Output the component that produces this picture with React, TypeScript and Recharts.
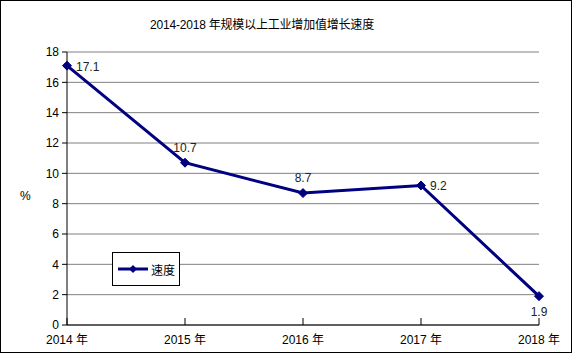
import { LineChart, Line, XAxis, YAxis, CartesianGrid, LabelList, Label } from "recharts";

const years = ["2014 年", "2015 年", "2016 年", "2017 年", "2018 年"];
const speed = [17.1, 10.7, 8.7, 9.2, 1.9];
const yTicks = [0, 2, 4, 6, 8, 10, 12, 14, 16, 18];

const data = years.map((year, i) => ({ year, speed: speed[i] }));

const NAVY = "#000080";
const FONT = "'Liberation Sans', Arial, 'Noto Sans CJK SC', sans-serif";

function Diamond(props: any) {
  const { cx, cy } = props;
  if (cx == null || cy == null) return null;
  const s = 4.5;
  return (
    <polygon
      points={`${cx},${cy - s} ${cx + s},${cy} ${cx},${cy + s} ${cx - s},${cy}`}
      fill={NAVY}
      stroke={NAVY}
    />
  );
}

// where each value label sits relative to its point
const labelPos = ["right", "top", "top", "right", "bottom"];

function ValueLabel(props: any) {
  const { x, y, value, index } = props;
  const pos = labelPos[index];
  let tx = x;
  let ty = y;
  let anchor: "start" | "middle" = "middle";
  if (pos === "right") {
    tx = x + 9;
    ty = y + 5;
    anchor = "start";
  } else if (pos === "top") {
    ty = y - 11;
  } else {
    ty = y + 20;
  }
  return (
    <text x={tx} y={ty} textAnchor={anchor} fontSize={12} fill="#222" fontFamily={FONT}>
      {value}
    </text>
  );
}

function LegendBox() {
  return (
    <div
      style={{
        position: "absolute",
        left: 111,
        top: 251,
        width: 66,
        height: 32,
        border: "1px solid #000",
        background: "#fff",
        fontFamily: FONT,
        fontSize: 12,
      }}
    >
      <svg width={40} height={32} style={{ position: "absolute", left: 0, top: 0 }}>
        <line x1={5} y1={16} x2={35} y2={16} stroke={NAVY} strokeWidth={3} />
        <polygon points="20,12 24,16 20,20 16,16" fill={NAVY} />
      </svg>
      <span style={{ position: "absolute", left: 38, top: 8, color: "#000" }}>速度</span>
    </div>
  );
}

export default function App() {
  return (
    <div
      style={{
        position: "absolute",
        left: 0,
        top: 0,
        width: 572,
        height: 353,
        border: "1px solid #000",
        boxSizing: "border-box",
        background: "#fff",
        fontFamily: FONT,
      }}
    >
      <div
        style={{
          position: "absolute",
          top: 14,
          left: 0,
          width: 522,
          textAlign: "center",
          fontSize: 12,
          color: "#000",
          letterSpacing: -0.2,
        }}
      >
        2014-2018 年规模以上工业增加值增长速度
      </div>
      <LineChart
        width={570}
        height={351}
        data={data}
        margin={{ top: 51, right: 32, bottom: 8, left: 14 }}
        style={{ position: "absolute", left: 0, top: 0 }}
      >
        <CartesianGrid vertical={false} stroke="#808080" />
        <XAxis
          dataKey="year"
          height={19}
          interval={0}
          stroke="#000"
          tickSize={-7}
          tickMargin={17}
          tick={{ fill: "#000", fontSize: 12, fontFamily: FONT }}
        />
        <YAxis
          domain={[0, 18]}
          ticks={yTicks}
          width={52}
          stroke="#000"
          tickSize={5}
          tickMargin={3}
          tick={{ fill: "#000", fontSize: 12, fontFamily: FONT }}
        >
          <Label value="%" position="insideLeft" offset={5} dy={7} fontSize={12} fill="#000" />
        </YAxis>
        <Line
          type="linear"
          dataKey="speed"
          name="速度"
          stroke={NAVY}
          strokeWidth={3}
          dot={<Diamond />}
          activeDot={false}
          isAnimationActive={false}
        >
          <LabelList dataKey="speed" content={<ValueLabel />} />
        </Line>
      </LineChart>
      <LegendBox />
    </div>
  );
}
